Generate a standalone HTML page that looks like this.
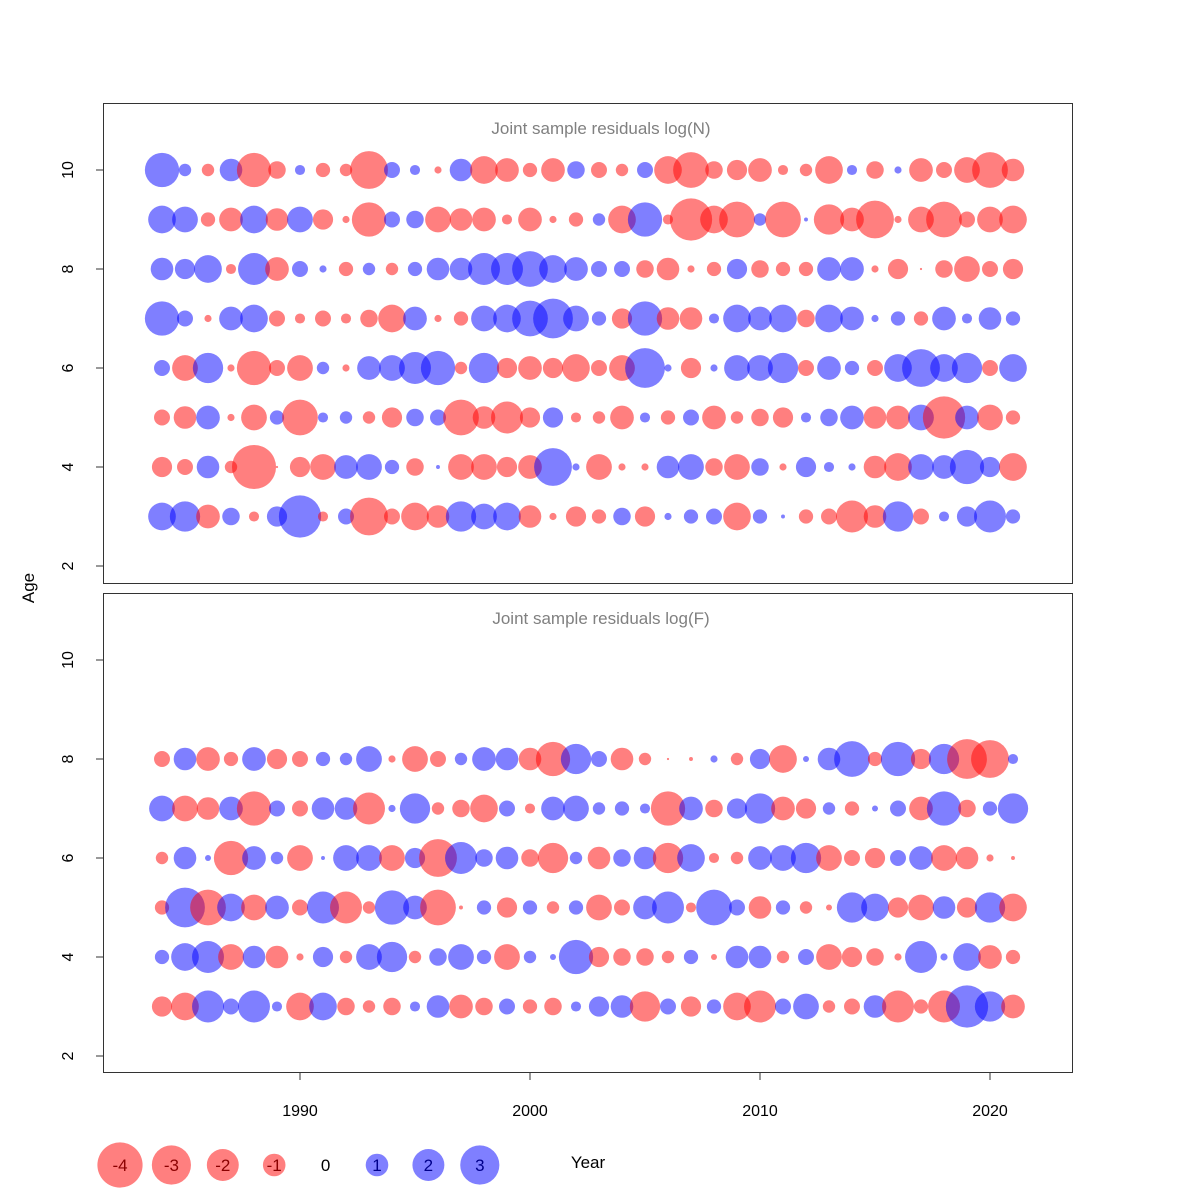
<!DOCTYPE html>
<html><head><meta charset="utf-8"><style>
body{margin:0;background:#fff}
svg{display:block;font-family:"Liberation Sans",sans-serif}
</style></head><body>
<svg id="chart" width="1200" height="1200" viewBox="0 0 1200 1200"></svg>
<script>
const years = [];
for (let y = 1984; y <= 2021; y++) years.push(y);
const agesN = [10,9,8,7,6,5,4,3];
const agesF = [8,7,6,5,4,3];
const xTicks = [1990,2000,2010,2020];
const yTicks = [2,4,6,8,10];
const legendValues = [-4,-3,-2,-1,0,1,2,3];

const resN10 = [2.3,0.3,-0.3,1,-2.3,-0.6,0.2,-0.4,-0.3,-2.8,0.5,0.2,-0.1,1,-1.5,-1.1,-0.4,-1.1,0.6,-0.5,-0.3,0.5,-1.5,-2.5,-0.6,-0.8,-1.1,-0.2,-0.3,-1.5,0.2,-0.6,0.1,-1.1,-0.5,-1.3,-2.5,-1];
const resN9 = [1.5,1.3,-0.4,-1.1,1.5,-1,1.3,-0.8,-0.1,-2.3,0.5,0.6,-1.3,-1,-1.1,-0.2,-1.1,-0.1,-0.4,0.3,-1.5,2.3,-0.2,-3.5,-1.5,-2.5,0.3,-2.5,0.03,-1.8,-1.1,-2.8,-0.1,-1.3,-2.5,-0.5,-1.3,-1.5];
const resN8 = [1,0.8,1.5,-0.2,2,-1.1,0.5,0.1,-0.4,0.3,-0.3,0.4,1,1,2,2,2.5,1.5,1.1,0.5,0.5,-0.6,-1,-0.1,-0.4,0.8,-0.6,-0.4,-0.4,1.1,1.1,-0.1,-0.8,-0.01,-0.6,-1.3,-0.5,-0.8];
const resN7 = [2.3,0.5,-0.1,1.1,1.5,-0.5,-0.2,-0.5,-0.2,-0.6,-1.5,1.1,-0.1,-0.4,1.3,1.5,2.5,3.1,1.3,0.4,-0.8,2.3,-1,-1,0.2,1.5,1.1,1.5,-0.6,1.5,1.1,0.1,0.4,-0.4,1.1,0.2,1,0.4];
const resN6 = [0.5,-1.3,1.8,-0.1,-2.3,-0.5,-1.3,0.3,-0.1,1.1,1.3,2,2.3,-0.3,1.8,-0.8,-1.1,-0.8,-1.5,-0.5,-1.3,3.1,0.1,-0.8,0.1,1.3,1.3,1.8,-0.5,1.1,0.4,-0.5,1.5,2.8,1.5,1.8,-0.5,1.5];
const resN5 = [-0.5,-1,1.1,-0.1,-1.3,0.4,-2.5,0.2,0.3,-0.3,-0.8,0.6,0.5,-2.5,-1,-2,-0.8,0.8,-0.2,-0.3,-1.1,0.2,-0.4,0.5,-1.1,-0.3,-0.6,-0.8,0.2,0.6,1.1,-1,-1.1,1.3,-3.5,1.1,-1.3,-0.4];
const resN4 = [-0.8,-0.5,1,-0.3,-3.8,-0.01,-0.8,-1.3,1.1,1.3,0.4,-0.6,0.03,-1.3,-1.3,-0.8,-1.1,2.8,0.1,-1.3,-0.1,-0.1,1,1.3,-0.6,-1.3,0.6,-0.1,0.8,0.2,0.1,-1,-1.5,1.3,1.1,2.3,0.8,-1.5];
const resN3 = [1.5,1.8,-1.1,0.6,-0.2,0.8,3.5,-0.2,0.5,-2.8,-0.5,-1.5,-1,1.8,1.3,1.5,-1,-0.1,-0.8,-0.4,0.6,-0.8,0.1,0.4,0.5,-1.5,0.4,0.03,-0.4,-0.5,-2,-1,1.8,-0.5,0.2,0.8,2,0.4];

const resF8 = [-0.5,1,-1.1,-0.4,1.1,-0.8,-0.5,0.4,0.3,1.3,-0.1,-1.3,-0.5,0.3,1.1,1,-1,-2.3,1.8,0.5,-1,-0.3,-0.01,-0.03,0.1,-0.3,0.8,-1.5,0.07,1,2.5,-0.4,2.3,-0.8,1.8,-3.1,-2.8,0.2];
const resF7 = [1.3,-1.3,-1,1.1,-2.3,0.5,-0.5,1,1,-2,0.1,1.8,-0.3,-0.6,-1.5,0.5,-0.2,1.1,1.3,0.3,0.4,0.2,-2.3,1.1,-0.6,0.8,1.8,-1.1,-0.8,0.3,-0.4,0.07,0.5,-1.1,2.3,-0.6,0.4,1.8];
const resF6 = [-0.3,1,0.07,-2.3,1.1,0.3,-1.3,0.03,1.3,1.3,-1.3,0.8,-2.8,2,0.6,1,-0.6,-1.8,0.3,-1,0.6,1,-1.8,1.5,-0.2,-0.3,1.1,1.3,1.8,-1.3,-0.5,-0.8,0.5,1.1,-1.3,-1,-0.1,-0.03];
const resF5 = [-0.4,3.1,-2.5,1.5,-1.3,1.1,-0.5,2,-2,-0.3,2.3,1.1,-2.5,-0.03,0.4,-0.8,0.4,-0.3,0.4,-1.3,-0.5,1.1,2,-0.2,2.5,0.5,-1,0.4,-0.3,-0.07,1.8,1.5,-0.8,-1.3,1,-0.8,1.8,-1.5];
const resF4 = [0.4,1.5,2,-1.3,1,-1,-0.1,0.8,-0.3,1.3,1.8,-0.3,0.6,1.3,0.4,-1.3,0.3,0.07,2.3,-0.8,-0.6,-0.6,-0.3,0.4,-0.07,1,1,-0.3,0.5,-1.3,-0.8,-0.6,-0.1,2,0.1,1.5,-1.1,-0.4];
const resF3 = [-0.8,-1.5,2,0.5,2,0.2,-1.5,1.5,-0.6,-0.3,-0.6,0.2,1,-1.1,-0.6,0.5,-0.4,-0.6,0.2,0.8,1,-1.8,0.5,-0.8,0.4,-1.5,-2,0.5,1.3,-0.3,-0.5,1,-2,-0.4,-2,3.5,1.8,-1.1];

const resN = [resN10,resN9,resN8,resN7,resN6,resN5,resN4,resN3];
const resF = [resF8,resF7,resF6,resF5,resF4,resF3];

const NS = "http://www.w3.org/2000/svg";
const svg = document.getElementById("chart");
function mk(tag, attrs, parent, text){
  const e = document.createElementNS(NS, tag);
  for (const k in attrs) e.setAttribute(k, attrs[k]);
  if (text !== undefined) e.textContent = text;
  (parent || svg).appendChild(e);
  return e;
}
const xScale = y => 300 + (y - 1990) * 23;
const rScale = v => 11.3 * Math.sqrt(Math.abs(v));
const RED = "rgba(255,0,0,0.5)", BLUE = "rgba(0,0,255,0.5)";

function panel(top, bottom, yAt10, title, ages, res, name){
  const g = mk("g", {});
  
  
  const yScale = a => yAt10 + (10 - a) * 49.5;
  const box = mk("rect", {x:103.5, y:top+0.5, width:969, height:bottom-top, fill:"none", stroke:"#333", "stroke-width":1}, g);
  
  
  const t = mk("text", {x:601, y:top+31, "text-anchor":"middle", "font-size":17, fill:"#808080"}, g, title);
  
  
  yTicks.forEach(v => {
    const y = yScale(v);
    const tk = mk("line", {x1:96, x2:103.5, y1:y, y2:y, stroke:"#333"}, g);
    
    
    const lb = mk("text", {x:0, y:0, transform:`translate(73,${y}) rotate(-90)`, "text-anchor":"middle", "font-size":16, fill:"#000"}, g, String(v));
    
    
  });
  ages.forEach((a, i) => {
    res[i].forEach((v, j) => {
      const c = mk("circle", {cx:xScale(years[j]), cy:yScale(a), r:rScale(v), fill: v < 0 ? RED : BLUE}, g);
      
      
    });
  });
}
panel(103, 583, 170, "Joint sample residuals log(N)", agesN, resN, "panel-log-n");
panel(593, 1072, 660, "Joint sample residuals log(F)", agesF, resF, "panel-log-f");

xTicks.forEach(v => {
  const x = xScale(v);
  const tk = mk("line", {x1:x, x2:x, y1:1072, y2:1080, stroke:"#333"});
  
  
  const lb = mk("text", {x:x, y:1116, "text-anchor":"middle", "font-size":16}, undefined, String(v));
  
  
});
const yt = mk("text", {x:0, y:0, transform:"translate(34,588) rotate(-90)", "text-anchor":"middle", "font-size":17}, undefined, "Age");


const xt = mk("text", {x:588, y:1168, "text-anchor":"middle", "font-size":17}, undefined, "Year");



legendValues.forEach((v, i) => {
  const x = 120 + i * 51.4;
  if (v !== 0) {
    const c = mk("circle", {cx:x, cy:1165, r:rScale(v), fill: v < 0 ? RED : BLUE});
    
    
  }
  const t = mk("text", {x:x, y:1171, "text-anchor":"middle", "font-size":17, fill: v < 0 ? "#8b0000" : (v > 0 ? "#00008b" : "#000")}, undefined, String(v));
  
  
});
</script>
</body></html>
